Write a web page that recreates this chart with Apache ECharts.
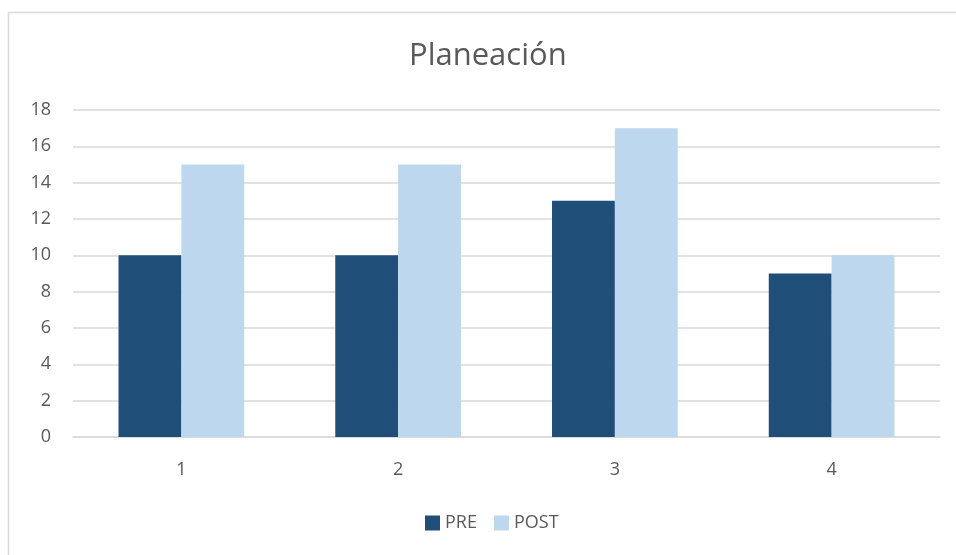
<!DOCTYPE html>
<html>
<head>
<meta charset="utf-8">
<script src="https://cdn.jsdelivr.net/npm/echarts@6/dist/echarts.min.js"></script>
<style>
  html, body { margin: 0; padding: 0; background: #fff; }
  #chart { width: 956px; height: 555px; }
</style>
</head>
<body>
<div id="chart"></div>
<script>
// Planning scores before and after, by group
const categories = ['1', '2', '3', '4'];
const preValues = [10, 10, 13, 9];
const postValues = [15, 15, 17, 10];

const FONT = '"Open Sans", "Liberation Sans", sans-serif';
const TEXT = '#595959';

const chart = echarts.init(document.getElementById('chart'), null, { renderer: 'canvas' });
chart.setOption({
  animation: false,
  backgroundColor: '#fff',
  textStyle: { fontFamily: FONT },
  graphic: [{
    type: 'rect',
    shape: { x: 8.5, y: 12.5, width: 970, height: 570 },
    style: { fill: 'none', stroke: '#d9d9d9', lineWidth: 1.5 },
    silent: true
  }],
  title: {
    text: 'Planeación',
    left: 404,
    top: 36,
    textStyle: { fontFamily: FONT, fontSize: 31, fontWeight: 'normal', color: TEXT }
  },
  legend: {
    data: ['PRE', 'POST'],
    top: 509,
    left: 420,
    itemWidth: 15,
    itemHeight: 15,
    itemGap: 17,
    icon: 'rect',
    textStyle: { fontFamily: FONT, fontSize: 18, color: TEXT }
  },
  grid: { left: 73, right: 16, top: 110, bottom: 118, containLabel: false },
  xAxis: {
    type: 'category',
    data: categories,
    axisTick: { show: false },
    axisLine: { show: true, lineStyle: { color: '#d9d9d9', width: 1.5 } },
    axisLabel: { fontFamily: FONT, fontSize: 18, color: TEXT, margin: 24 }
  },
  yAxis: {
    type: 'value',
    min: 0,
    max: 18,
    interval: 2,
    axisLine: { show: false },
    axisTick: { show: false },
    splitLine: { lineStyle: { color: '#d9d9d9', width: 1.5 } },
    axisLabel: { fontFamily: FONT, fontSize: 18, color: TEXT, margin: 22 }
  },
  series: [
    {
      name: 'PRE',
      type: 'bar',
      data: preValues,
      barGap: '0%',
      barCategoryGap: '42%',
      itemStyle: { color: '#1f4e79' }
    },
    {
      name: 'POST',
      type: 'bar',
      data: postValues,
      itemStyle: { color: '#bdd7ee' }
    }
  ]
});
</script>
</body>
</html>
